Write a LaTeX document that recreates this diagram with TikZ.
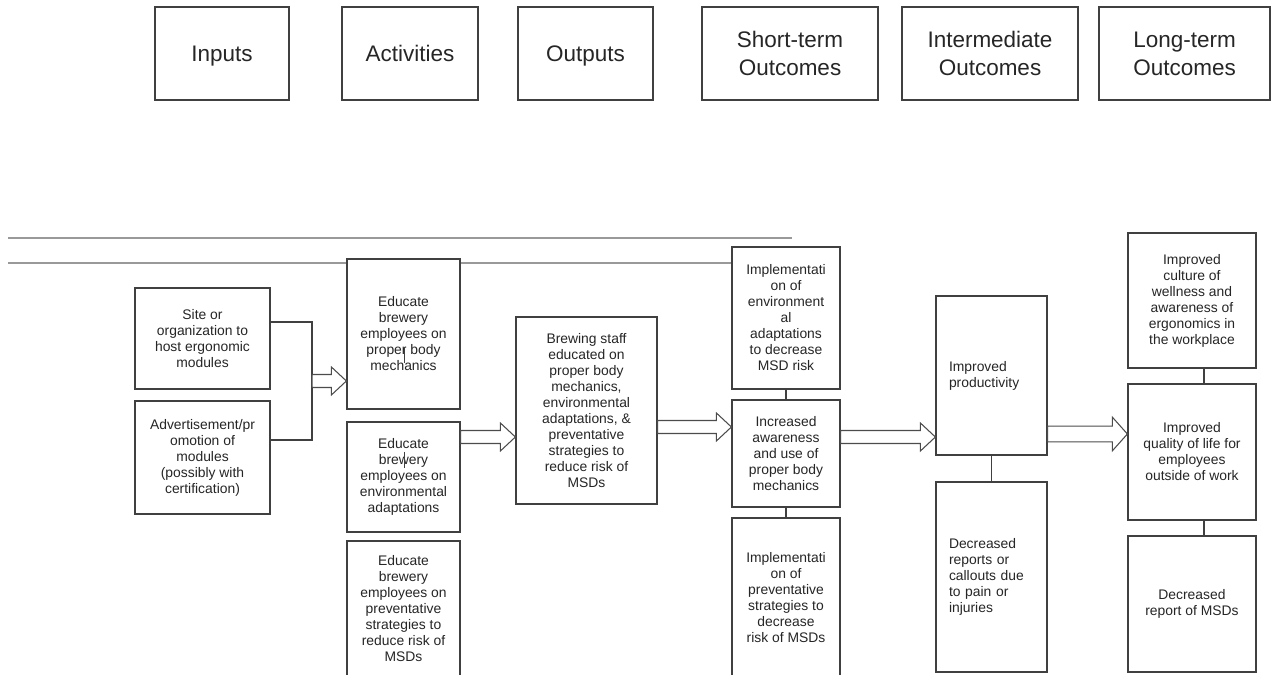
\documentclass[tikz,border=0pt]{standalone}
\usepackage{fontspec}
\setmainfont{Liberation Sans}
\usetikzlibrary{calc}
\newdimen\px
\px=0.02cm
\newcommand{\hollowarrow}[3][1]{%
  \draw[hollow] ($(#2)+(0,6.5*#1)$) -- ($(#3)+(-15,6.5*#1)$) -- ($(#3)+(-15,14*#1)$) -- (#3)
    -- ($(#3)+(-15,-14*#1)$) -- ($(#3)+(-15,-6.5*#1)$) -- ($(#2)+(0,-6.5*#1)$) -- cycle;}

\begin{document}
\begin{tikzpicture}[x=0.02cm,y=-0.02cm,
  box/.style={draw=black!75,line width=0.7pt,fill=white,inner sep=0pt,align=center,
    text=black!85,font=\fontsize{7.9}{9.1}\selectfont},
  head/.style={box,minimum height=93\px,text depth=0pt,font=\fontsize{12.8}{15.9}\selectfont},
  leftbox/.style={box,align=left,inner xsep=13\px,text width=85\px},
  hollow/.style={draw=black!70,line width=0.6pt,fill=white},
  rule/.style={draw=black!40,line width=1.3pt},
  link/.style={draw=black!75,line width=0.7pt}]
\useasboundingbox (0,0) rectangle (1272,675);
\clip (0,0) rectangle (1272,675);

\node[head,minimum width=134\px] (hin) at (222,53.5) {Inputs};
\node[head,minimum width=136\px] (hact) at (410,53.5) {Activities};
\node[head,minimum width=135\px] (hout) at (585.5,53.5) {Outputs};
\node[head,minimum width=176\px] (hshort) at (790,53.5) {Short-term\\Outcomes};
\node[head,minimum width=176\px] (hinter) at (990,53.5) {Intermediate\\Outcomes};
\node[head,minimum width=171\px] (hlong) at (1184.5,53.5) {Long-term\\Outcomes};

\draw[rule] (8,238) -- (792,238);
\draw[rule] (8,263) -- (733,263);

\node[box,minimum width=135\px,minimum height=101\px] (site) at (202.5,338.5) {Site or\\organization to\\host ergonomic\\modules};
\node[box,minimum width=135\px,minimum height=113\px] (advert) at (202.5,457.5) {Advertisement/pr\\omotion of\\modules\\(possibly with\\certification)};

\node[box,minimum width=113\px,minimum height=150\px] (edu1) at (403.5,334) {Educate\\brewery\\employees on\\proper body\\mechanics};
\node[box,minimum width=113\px,minimum height=110\px] (edu2) at (403.5,477) {Educate\\brewery\\employees on\\environmental\\adaptations};
\node[box,minimum width=113\px,minimum height=136\px] (edu3) at (403.5,609) {Educate\\brewery\\employees on\\preventative\\strategies to\\reduce risk of\\MSDs};

\node[box,minimum width=141\px,minimum height=187\px] (brew) at (586.5,410.5) {Brewing staff\\educated on\\proper body\\mechanics,\\environmental\\adaptations, \&\\preventative\\strategies to\\reduce risk of\\MSDs};

\node[box,minimum width=108\px,minimum height=142\px] (impl1) at (786,318) {Implementati\\on of\\environment\\al\\adaptations\\to decrease\\MSD risk};
\node[box,minimum width=108\px,minimum height=107\px] (incr) at (786,453.5) {Increased\\awareness\\and use of\\proper body\\mechanics};
\node[box,minimum width=108\px,minimum height=160\px] (impl2) at (786,598) {Implementati\\on of\\preventative\\strategies to\\decrease\\risk of MSDs};

\node[leftbox,minimum height=159\px] (prod) at (991.5,375.5) {Improved\\productivity};
\node[leftbox,minimum height=190\px] (decr) at (991.5,577) {Decreased\\reports or\\callouts due\\to pain or\\injuries};

\node[box,minimum width=128\px,minimum height=135\px] (cult) at (1192,300.5) {Improved\\culture of\\wellness and\\awareness of\\ergonomics in\\the workplace};
\node[box,minimum width=128\px,minimum height=136\px] (qual) at (1192,452) {Improved\\quality of life for\\employees\\outside of work};
\node[box,minimum width=128\px,minimum height=136\px] (msd) at (1192,604) {Decreased\\report of MSDs};

\coordinate (join) at (312,381);
\draw[link] (site.east |- 0,322) -| (join |- 0,440) -- (advert.east |- 0,440);
\coordinate (a1) at (edu1.west |- join);
\hollowarrow{join}{a1}
\coordinate (a2s) at (edu2.east |- 0,437);
\coordinate (a2e) at (brew.west |- a2s);
\hollowarrow{a2s}{a2e}
\coordinate (a3s) at (brew.east |- 0,427);
\coordinate (a3e) at (incr.west |- a3s);
\hollowarrow{a3s}{a3e}
\coordinate (a4s) at (incr.east |- 0,437);
\coordinate (a4e) at (prod.west |- a4s);
\hollowarrow{a4s}{a4e}
\coordinate (a5s) at (prod.east |- 0,434);
\coordinate (a5e) at (qual.west |- a5s);
\hollowarrow[1.2]{a5s}{a5e}

\draw[link] (impl1) -- (incr);
\draw[link] (incr) -- (impl2);
\draw[link] (prod) -- (decr);
\draw[link] ($(cult.south)+(12,0)$) -- ($(qual.north)+(12,0)$);
\draw[link] ($(qual.south)+(12,0)$) -- ($(msd.north)+(12,0)$);

\draw[link,line width=0.5pt] ($(edu1.center)+(0.5,13)$) -- ++(0,16);
\draw[link,line width=0.5pt] ($(edu2.center)+(0.5,-25)$) -- ++(0,16);
\end{tikzpicture}
\end{document}
